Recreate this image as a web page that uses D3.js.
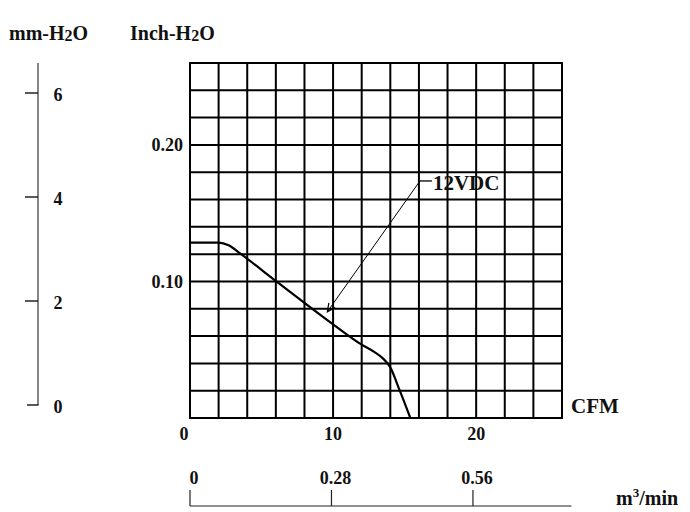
<!DOCTYPE html>
<html>
<head>
<meta charset="utf-8">
<script src="https://cdn.jsdelivr.net/npm/d3@7"></script>
<style>
  html, body { margin: 0; padding: 0; background: #fff; }
  svg { display: block; }
  text { font-family: "Liberation Serif", "Times New Roman", serif; font-weight: bold; fill: #111; }
</style>
</head>
<body>
<script>
// ---- data ----
const cfmTicks = [0, 10, 20];
const inchTicks = [0.10, 0.20];
const mmTicks = [0, 2, 4, 6];
const m3Ticks = [0, 0.28, 0.56];
const m3TickLabels = ["0", "0.28", "0.56"];
const curveCFM  = [0, 2.0, 2.7, 3.5, 6.06, 10.0, 12.0, 12.9, 13.5, 13.97, 14.67, 15.4];
const curveInch = [0.1285, 0.1285, 0.1265, 0.1205, 0.0999, 0.0686, 0.0537, 0.0482, 0.0435, 0.0376, 0.0198, 0];
const seriesLabel = "12VDC";
const arrowTip = [9.6, 0.0778];      // CFM, inch
const arrowStart = [16.07, 0.1736];  // CFM, inch

const W = 690, H = 512;
const svg = d3.select("body").append("svg").attr("width", W).attr("height", H);

const x = d3.scaleLinear([0, 26], [190, 562]);
const y = d3.scaleLinear([0, 0.26], [418, 63]);
const mm = d3.scaleLinear([0, 6], [405, 93]);
const m3 = d3.scaleLinear([0, 26 * 0.028317], [190, 562]);

// ---- grid ----
const g = svg.append("g");
g.selectAll("line.v").data(d3.range(0, 26.001, 2)).join("line")
  .attr("x1", d => x(d)).attr("x2", d => x(d))
  .attr("y1", y(0)).attr("y2", y(0.26))
  .attr("stroke", "#000").attr("stroke-width", 2);
g.selectAll("line.h").data(d3.range(0, 0.26001, 0.02)).join("line")
  .attr("y1", d => y(d)).attr("y2", d => y(d))
  .attr("x1", x(0) - 1).attr("x2", x(26) + 1)
  .attr("stroke", "#000").attr("stroke-width", 2);

// ---- curve ----
const pts = curveCFM.map((c, i) => [c, curveInch[i]]);
svg.append("path")
  .attr("d", d3.line().x(d => x(d[0])).y(d => y(d[1])).curve(d3.curveMonotoneX)(pts))
  .attr("fill", "none").attr("stroke", "#000").attr("stroke-width", 2.2);

// ---- annotation arrow ----
const tx = x(arrowTip[0]), ty = y(arrowTip[1]);
const sx = x(arrowStart[0]), sy = y(arrowStart[1]);
svg.append("line").attr("x1", sx).attr("y1", sy).attr("x2", tx).attr("y2", ty)
  .attr("stroke", "#000").attr("stroke-width", 1);
svg.append("line").attr("x1", sx).attr("y1", sy).attr("x2", sx + 12).attr("y2", sy)
  .attr("stroke", "#000").attr("stroke-width", 1.3);
{
  const ang = Math.atan2(ty - sy, tx - sx);
  const L = 9, a = 0.45;
  const p1 = [tx - L * Math.cos(ang - a), ty - L * Math.sin(ang - a)];
  const p2 = [tx - L * Math.cos(ang + a), ty - L * Math.sin(ang + a)];
  svg.append("path").attr("d", `M${p1[0]},${p1[1]}L${tx},${ty}L${p2[0]},${p2[1]}`)
    .attr("fill", "none").attr("stroke", "#000").attr("stroke-width", 1.2);
}
svg.append("text").attr("x", sx + 13).attr("y", sy + 9).attr("font-size", 21).text(seriesLabel);

// ---- inch axis labels ----
svg.selectAll("text.inch").data(inchTicks).join("text")
  .attr("x", x(0) - 7).attr("y", d => y(d)).attr("dy", "0.34em")
  .attr("text-anchor", "end").attr("font-size", 18)
  .text(d => d.toFixed(2));

// ---- CFM axis labels ----
svg.selectAll("text.cfm").data(cfmTicks).join("text")
  .attr("x", d => x(d) - (d === 0 ? 6 : 0)).attr("y", 440)
  .attr("text-anchor", "middle").attr("font-size", 18)
  .text(d => d);
svg.append("text").attr("x", 571).attr("y", 413).attr("font-size", 21).text("CFM");

// ---- mm-H2O axis ----
const ax = 38;
svg.append("line").attr("x1", ax).attr("x2", ax).attr("y1", mm(0)).attr("y2", y(0.26))
  .attr("stroke", "#333").attr("stroke-width", 1.2);
svg.selectAll("line.mmt").data(mmTicks).join("line")
  .attr("x1", d => d === 0 ? ax - 11 : ax - 13)
  .attr("x2", d => ax + (d === 0 ? 0.6 : 0))
  .attr("y1", d => mm(d)).attr("y2", d => mm(d))
  .attr("stroke", "#222").attr("stroke-width", 1.5);
svg.selectAll("text.mm").data(mmTicks).join("text")
  .attr("x", 58).attr("y", d => mm(d) + 1).attr("dy", "0.4em")
  .attr("text-anchor", "middle").attr("font-size", 18)
  .text(d => d);

// ---- titles ----
function h2oTitle(xp, pre) {
  const t = svg.append("text").attr("x", xp).attr("y", 40).attr("font-size", 20);
  t.append("tspan").text(pre + "-H");
  t.append("tspan").attr("font-size", 16).attr("dy", 1).text("2");
  t.append("tspan").attr("dy", -1).text("O");
  return t;
}
h2oTitle(9, "mm");
h2oTitle(130, "Inch");

// ---- m3/min axis ----
const by = 506;
svg.append("line").attr("x1", m3(0)).attr("x2", m3(0.755)).attr("y1", by).attr("y2", by)
  .attr("stroke", "#222").attr("stroke-width", 1.2);
svg.selectAll("line.m3t").data(m3Ticks).join("line")
  .attr("x1", d => m3(d)).attr("x2", d => m3(d))
  .attr("y1", by).attr("y2", by - 16)
  .attr("stroke", "#222").attr("stroke-width", 1.2);
svg.selectAll("text.m3").data(m3Ticks).join("text")
  .attr("x", d => m3(d) + 4).attr("y", 484)
  .attr("text-anchor", "middle").attr("font-size", 18)
  .text((d, i) => m3TickLabels[i]);
{
  const t = svg.append("text").attr("x", 616).attr("y", 505).attr("font-size", 20);
  t.append("tspan").text("m");
  t.append("tspan").attr("font-size", 13).attr("dy", -8).text("3");
  t.append("tspan").attr("dy", 8).text("/min");
}
</script>
</body>
</html>
